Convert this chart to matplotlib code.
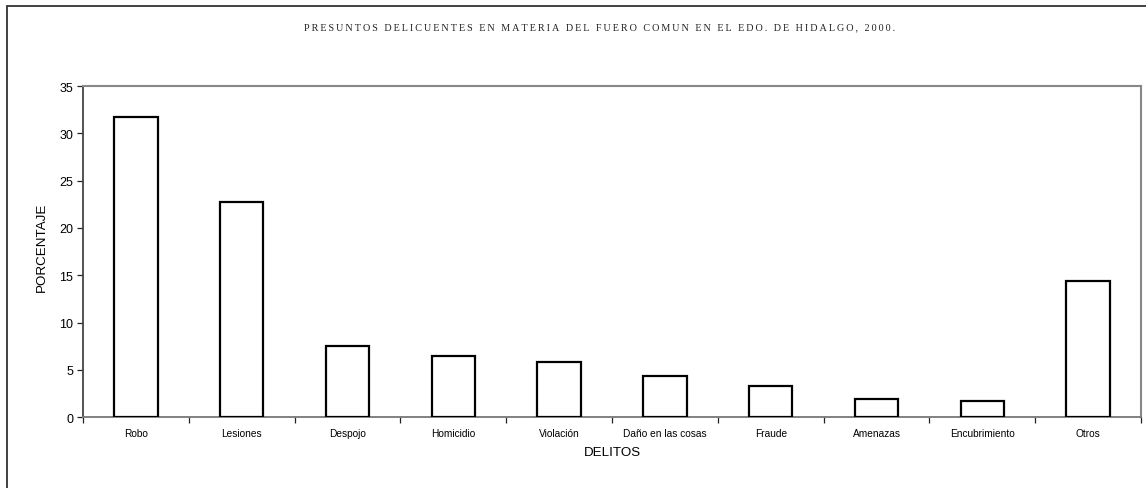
import matplotlib
matplotlib.use("Agg")
import matplotlib.pyplot as plt
from matplotlib.patches import Rectangle
import numpy as np

categories = ["Robo", "Lesiones", "Despojo", "Homicidio", "Violación",
              "Daño en las cosas", "Fraude", "Amenazas", "Encubrimiento", "Otros"]
values = [31.7, 22.7, 7.55, 6.5, 5.85, 4.35, 3.35, 1.9, 1.7, 14.4]
yticks = [0, 5, 10, 15, 20, 25, 30, 35]
title = "PRESUNTOS DELICUENTES EN MATERIA DEL FUERO COMUN EN EL EDO. DE HIDALGO, 2000."

W, H = 1146, 489
fig = plt.figure(figsize=(W / 100, H / 100), dpi=100)
fig.patch.set_facecolor("white")

# outer frame
fig.patches.append(Rectangle((7 / W, -0.1), 1.2, 1 - 7 / H + 0.1, transform=fig.transFigure,
                             fill=False, edgecolor="#333333", linewidth=1.3))

ax = fig.add_axes([83 / W, 1 - 418.3 / H, (1141 - 83) / W, (418.3 - 87) / H])
x = np.arange(len(categories))
ax.bar(x, values, width=0.41, color="white", edgecolor="black", linewidth=1.6, zorder=3)

ax.set_xlim(-0.5, len(categories) - 0.5)
ax.set_ylim(0, 35)
ax.set_yticks(yticks)
ax.set_yticklabels([str(t) for t in yticks], fontsize=9, family="Liberation Sans")
ax.set_xticks(x)
ax.set_xticklabels(categories, fontsize=7.3, family="Liberation Sans")
ax.tick_params(axis="x", which="major", length=0, pad=8)
ax.set_xticks(np.arange(-0.5, len(categories)), minor=True)
ax.tick_params(axis="x", which="minor", length=4, width=0.9, color="#222222", direction="out")
ax.tick_params(axis="y", length=4, width=0.9, color="#222222", direction="out", pad=3)

for s in ["top", "right"]:
    ax.spines[s].set_color("#888888")
    ax.spines[s].set_linewidth(1.5)
ax.spines["left"].set_color("#444444")
ax.spines["left"].set_linewidth(1.3)
ax.spines["bottom"].set_color("#777777")
ax.spines["bottom"].set_linewidth(1.3)

fig.text(42 / W, 1 - 247 / H, "PORCENTAJE", rotation=90, ha="center", va="center",
         fontsize=9.6, family="Liberation Sans")
fig.text(612 / W, 1 - 453 / H, "DELITOS", ha="center", va="center",
         fontsize=9.6, family="Liberation Sans")
spaced_title = "\u2009".join(title)
fig.text(600 / W, 1 - 28 / H, spaced_title, ha="center", va="center",
         fontsize=7.3, family="Liberation Serif", color="#222222")

fig.savefig("out.png", dpi=100, facecolor="white")
